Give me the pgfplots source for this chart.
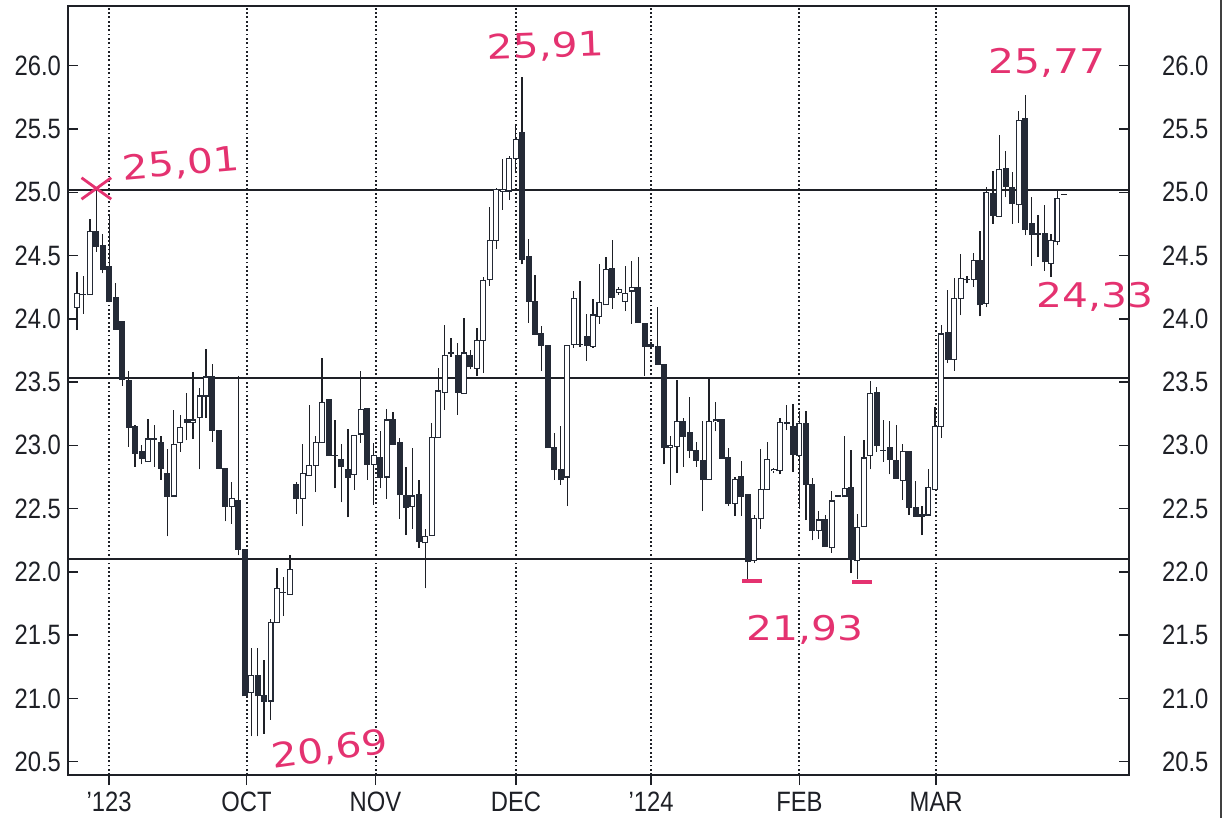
\documentclass[border=0pt]{standalone}
\usepackage{fontspec}
\setmainfont{Liberation Sans}[FakeStretch=0.85]
\newfontfamily\hand{DejaVu Sans}[FakeStretch=1.2]
\usepackage{pgfplots}
\usepackage{pgfplotstable}
\pgfplotsset{compat=1.18}

\definecolor{ink}{RGB}{30,32,38}
\definecolor{candle}{RGB}{36,42,54}
\definecolor{pen}{RGB}{228,50,112}

% daily candles: index, open, high, low, close
\pgfplotstableread{
x o h l c
1 24.09 24.37 23.91 24.20
2 24.19 24.34 24.04 24.19
3 24.19 24.79 24.19 24.69
4 24.69 25.01 24.53 24.57
5 24.58 24.67 24.36 24.39
6 24.41 24.82 24.13 24.14
7 24.17 24.28 23.92 23.92
8 23.98 23.98 23.47 23.52
9 23.51 23.59 22.99 23.14
10 23.15 23.16 22.83 22.94
11 22.95 23.00 22.85 22.90
12 22.87 23.21 22.87 23.05
13 23.05 23.16 22.83 23.05
14 23.02 23.07 22.73 22.82
15 22.78 22.97 22.28 22.60
16 22.60 23.28 22.60 23.01
17 23.02 23.24 22.95 23.14
18 23.20 23.41 23.04 23.18
19 23.18 23.58 23.05 23.20
20 23.22 23.45 22.81 23.39
21 23.39 23.76 23.22 23.54
22 23.54 23.64 23.03 23.12
23 23.12 23.12 22.82 22.82
24 22.82 22.82 22.40 22.52
25 22.52 22.71 22.38 22.58
26 22.56 23.55 22.13 22.18
27 22.18 22.18 21.02 21.02
28 21.05 21.40 20.70 21.18
29 21.18 21.40 20.70 21.02
30 21.02 21.30 20.72 20.98
31 20.98 21.63 20.83 21.60
32 21.60 22.03 21.60 21.87
33 21.84 21.96 21.65 21.84
34 21.82 22.13 21.82 22.02
35 22.69 22.71 22.46 22.58
36 22.58 23.01 22.36 22.78
37 22.76 23.32 22.76 22.84
38 22.84 23.07 22.63 23.02
39 23.02 23.69 23.02 23.34
40 23.36 23.36 22.92 22.92
41 22.92 23.20 22.66 22.92
42 22.89 23.01 22.55 22.83
43 22.81 23.13 22.43 22.75
44 22.77 23.08 22.65 23.08
45 23.09 23.59 23.02 23.28
46 23.29 23.29 22.73 22.85
47 22.85 23.02 22.53 22.92
48 22.90 23.11 22.66 22.75
49 22.75 23.29 22.58 23.20
50 23.20 23.26 23.01 23.01
51 23.02 23.06 22.42 22.61
52 22.60 22.83 22.29 22.51
53 22.52 22.98 22.34 22.60
54 22.61 22.73 22.19 22.24
55 22.23 22.34 21.87 22.28
56 22.29 23.18 22.29 23.06
57 23.06 23.61 23.06 23.43
58 23.42 23.95 23.28 23.71
59 23.73 23.85 23.70 23.73
60 23.71 23.81 23.24 23.42
61 23.41 24.01 23.41 23.73
62 23.71 23.75 23.60 23.62
63 23.61 23.93 23.55 23.83
64 23.83 24.33 23.57 24.30
65 24.31 24.88 24.26 24.62
66 24.62 25.03 24.55 25.02
67 25.01 25.26 24.86 25.02
68 25.01 25.29 24.94 25.27
69 25.27 25.54 25.15 25.42
70 25.47 25.91 24.43 24.47
71 24.49 24.63 23.97 24.14
72 24.14 24.35 23.88 23.88
73 23.88 23.94 23.59 23.79
74 23.79 23.79 22.98 22.98
75 22.98 23.10 22.73 22.81
76 22.81 23.15 22.69 22.73
77 22.75 23.79 22.52 23.79
78 23.80 24.22 23.77 24.16
79 23.80 24.30 23.78 23.80
80 23.86 24.04 23.67 23.79
81 23.78 24.16 23.77 24.03
82 24.02 24.43 23.96 24.13
83 24.11 24.49 24.11 24.39
84 24.40 24.62 24.08 24.17
85 24.21 24.25 24.19 24.23
86 24.14 24.42 24.06 24.20
87 24.22 24.46 23.96 24.25
88 24.25 24.49 23.97 23.97
89 23.96 23.96 23.55 23.78
90 23.80 23.82 23.76 23.78
91 23.78 24.09 23.64 23.64
92 23.64 23.64 22.85 22.98
93 22.98 23.07 22.69 23.00
94 22.99 23.52 22.78 23.19
95 23.19 23.22 22.83 23.07
96 23.10 23.38 22.90 22.96
97 22.96 23.03 22.83 22.88
98 22.88 23.19 22.48 22.73
99 22.73 23.53 22.73 23.19
100 23.19 23.34 23.11 23.20
101 23.20 23.20 22.90 22.90
102 22.90 22.98 22.52 22.54
103 22.54 22.75 22.44 22.73
104 22.75 22.88 22.44 22.60
105 22.61 22.61 21.93 22.08
106 22.09 22.45 22.07 22.42
107 22.42 22.97 22.34 22.65
108 22.65 23.03 22.65 22.89
109 22.80 22.82 22.78 22.81
110 22.80 23.22 22.77 23.18
111 23.18 23.32 23.12 23.17
112 23.15 23.33 22.79 22.93
113 22.92 23.27 22.50 23.17
114 23.17 23.27 22.41 22.69
115 22.69 22.74 22.25 22.33
116 22.33 22.48 22.26 22.41
117 22.41 22.45 22.20 22.20
118 22.19 22.64 22.15 22.56
119 22.60 22.61 22.59 22.60
120 22.60 23.07 22.60 22.66
121 22.67 22.96 21.99 22.10
122 22.09 22.46 21.94 22.35
123 22.36 23.04 22.36 22.90
124 22.92 23.51 22.81 23.41
125 23.42 23.46 22.95 23.00
126 22.96 23.20 22.87 22.96
127 22.98 23.19 22.77 22.89
128 22.88 23.16 22.74 22.74
129 22.72 23.01 22.57 22.95
130 22.95 22.95 22.45 22.51
131 22.51 22.72 22.44 22.44
132 22.45 22.52 22.29 22.44
133 22.45 22.81 22.45 22.67
134 22.65 23.30 22.65 23.15
135 23.15 23.95 23.06 23.88
136 23.89 24.23 23.65 23.68
137 23.68 24.32 23.59 24.16
138 24.16 24.51 24.03 24.32
139 24.31 24.34 24.28 24.31
140 24.31 24.52 24.25 24.46
141 24.46 24.69 24.02 24.11
142 24.12 25.04 24.09 25.00
143 24.99 25.17 24.75 24.82
144 24.81 25.45 24.81 25.18
145 25.19 25.33 24.96 25.05
146 25.04 25.16 24.75 24.91
147 24.90 25.64 24.76 25.57
148 25.58 25.77 24.66 24.71
149 24.75 24.96 24.42 24.67
150 24.67 24.82 24.49 24.67
151 24.67 24.90 24.38 24.45
152 24.44 24.67 24.33 24.62
153 24.61 25.02 24.58 24.95
}\ohlc

\begin{document}
\begin{tikzpicture}
\useasboundingbox (-34bp,-21.5bp) rectangle (579bp,387.5bp);
\begin{axis}[
    at={(0,0)}, anchor=south west,
    scale only axis, width=530.5bp, height=384.5bp,
    xmin=-0.4, xmax=164.1, ymin=20.395, ymax=26.472,
    clip=false,
    axis line style={line width=0.8bp, ink},
    xtick={5.96,27.28,47.28,69.06,89.99,113.0,134.2},
    xticklabels={’123,OCT,NOV,DEC,’124,FEB,MAR},
    xtick pos=bottom, xtick align=outside,
    ytick={20.5,21,...,26}, ytick pos=left, ytick align=inside,
    major tick length=5bp,
    tick style={line width=0.7bp, ink},
    xmajorgrids,
    major grid style={line width=1.0bp, ink, dash pattern=on 0.9bp off 1.25bp},
    tick label style={font=\fontsize{14bp}{16bp}\selectfont, text=ink},
    /pgf/number format/.cd, fixed, fixed zerofill, precision=1, assume math mode=true,
]

% support / resistance lines
\addplot[ink, line width=0.8bp] coordinates {(-0.4,25.02) (164.1,25.02)};
\addplot[ink, line width=0.8bp] coordinates {(-0.4,23.53) (164.1,23.53)};
\addplot[ink, line width=0.8bp] coordinates {(-0.4,22.10) (164.1,22.10)};

% wicks
\addplot[draw=none, mark=none, error bars/.cd, y dir=plus, y explicit, error mark=none,
    error bar style={draw=ink, line width=0.65bp}]
    table[x=x, y=l, y error plus expr=\thisrow{h}-\thisrow{l}] {\ohlc};
% bodies (outline, fills the falling candles)
\addplot[draw=none, mark=none, error bars/.cd, y dir=plus, y explicit, error mark=none,
    error bar style={draw=candle, line width=3.0bp}]
    table[x=x, y expr={min(\thisrow{o},\thisrow{c})-0.0045},
          y error plus expr={abs(\thisrow{o}-\thisrow{c})+0.009}] {\ohlc};
% hollow insides of the rising candles
\addplot[draw=none, mark=none, error bars/.cd, y dir=plus, y explicit, error mark=none,
    error bar style={draw=white, line width=1.9bp}]
    table[x=x, y expr={\thisrow{o}+0.0045},
          y error plus expr={max(\thisrow{c}-\thisrow{o}-0.009,0)}] {\ohlc};

% last price tick
\addplot[ink, only marks, mark=-, mark size=1.5bp, line width=0.6bp] coordinates {(154,24.98)};

% handwritten marks
\addplot[pen, only marks, mark=x, mark size=10.5bp,
    mark options={yscale=0.72, line width=1.4bp, draw=pen}] coordinates {(4,25.03)};
\addplot[pen, only marks, mark=-, mark size=5bp, line width=2bp] coordinates {(105.6,21.93) (122.7,21.92)};

\node[text=pen, rotate=5] at (axis cs:17.1,25.22) {\hand\fontsize{17bp}{20bp}\selectfont 25,01};
\node[text=pen, rotate=2] at (axis cs:73.6,26.15) {\hand\fontsize{17bp}{20bp}\selectfont 25,91};
\node[text=pen, rotate=8] at (axis cs:40.2,20.59) {\hand\fontsize{17bp}{20bp}\selectfont 20,69};
\node[text=pen] at (axis cs:113.9,21.54) {\hand\fontsize{17bp}{20bp}\selectfont 21,93};
\node[text=pen] at (axis cs:151.4,26.02) {\hand\fontsize{17bp}{20bp}\selectfont 25,77};
\node[text=pen] at (axis cs:158.8,24.17) {\hand\fontsize{17bp}{20bp}\selectfont 24,33};
\end{axis}

% right-hand price scale
\begin{axis}[
    at={(0,0)}, anchor=south west,
    scale only axis, width=530.5bp, height=384.5bp,
    xmin=-0.4, xmax=164.1, ymin=20.395, ymax=26.472,
    axis x line=none, axis y line*=right,
    axis line style={line width=0.8bp, ink},
    ytick={20.5,21,...,26}, ytick align=inside,
    major tick length=5bp,
    tick style={line width=0.7bp, ink},
    yticklabel shift=13bp,
    tick label style={font=\fontsize{14bp}{16bp}\selectfont, text=ink},
    /pgf/number format/.cd, fixed, fixed zerofill, precision=1, assume math mode=true,
]
\end{axis}

% edge of the scanned sheet
\draw[line width=1.2bp, black!75] (576.5bp,-21.5bp) -- (576.5bp,387.5bp);
\end{tikzpicture}
\end{document}
